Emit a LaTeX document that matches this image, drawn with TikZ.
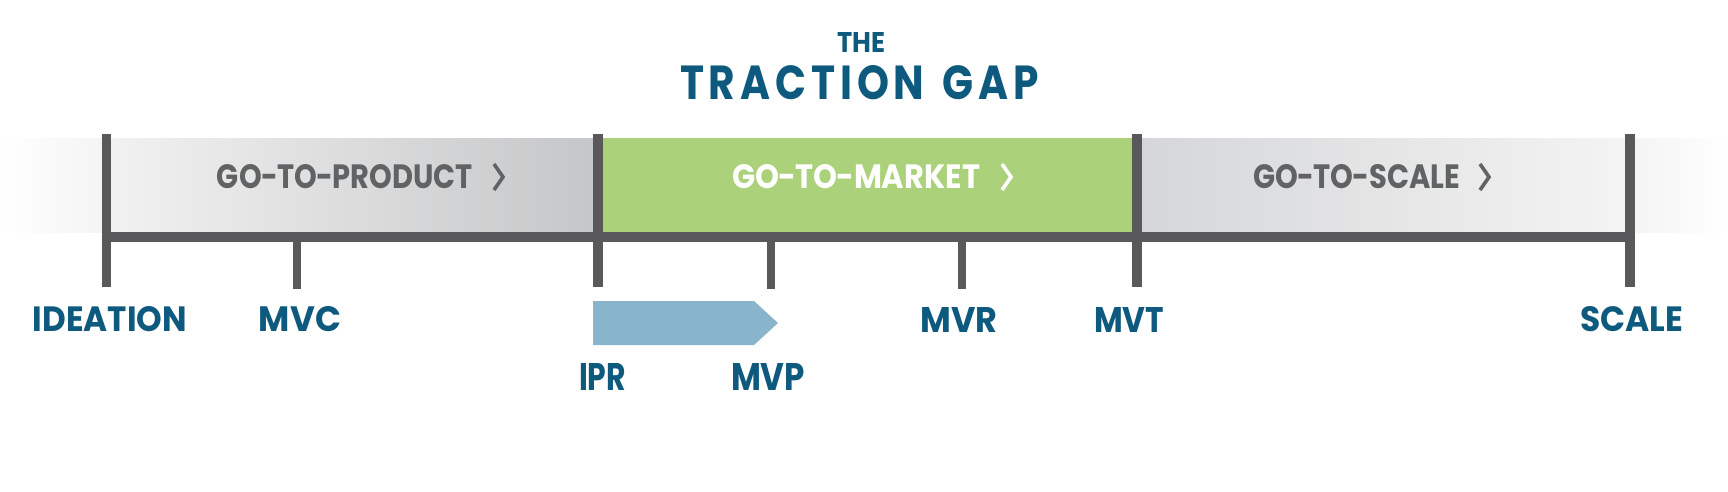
\documentclass[tikz,border=0pt]{standalone}
\usepackage{fontspec}
\setmainfont{Poppins}
\usepackage{graphicx}
\definecolor{tgblue}{HTML}{0E5A7E}
\definecolor{tickgray}{HTML}{59595B}
\definecolor{bandtext}{HTML}{616264}
\definecolor{tggreen}{HTML}{ABD27B}
\definecolor{arrowblue}{HTML}{88B5CC}
\definecolor{fadegray}{HTML}{F4F4F4}
\newcommand{\fitbox}[3]{\resizebox{#1pt}{#2pt}{#3}}
\newcommand{\hy}{\kern-0.02em-\kern-0.02em}
\begin{document}
\begin{tikzpicture}[x=1pt,y=-1pt,
  lbl/.style={inner sep=0pt, outer sep=0pt, text=tgblue, font=\bfseries},
  bandlbl/.style={inner sep=0pt, outer sep=0pt, text=bandtext, font=\bfseries},
  chev/.style={line width=3.6pt, miter limit=10},
  majortick/.style={fill=tickgray},
  minortick/.style={fill=tickgray}]
\useasboundingbox (0,0) rectangle (1728,492);
% fades outside the timeline
\shade[left color=white, right color=fadegray] (0,138) rectangle (102,232);
\shade[left color=fadegray, right color=white] (1635,138) rectangle (1728,232);
% bands
\shade[left color={rgb,255:red,242;green,242;blue,243}, right color={rgb,255:red,197;green,198;blue,199}] (102,138) rectangle (598,232);
\fill[tggreen] (598,138) rectangle (1137,232);
\shade[left color={rgb,255:red,213;green,214;blue,216}, right color={rgb,255:red,244;green,244;blue,244}] (1137,138) rectangle (1630,232);
% axis
\fill[tickgray] (102,232) rectangle (1635,242);
% major ticks
\fill[majortick] (102,134) rectangle (111,287);
\fill[majortick] (593,134) rectangle (603,287);
\fill[majortick] (1132,134) rectangle (1142,287);
\fill[majortick] (1625,134) rectangle (1635,287);
% minor ticks
\fill[minortick] (293,242) rectangle (301,289);
\fill[minortick] (767,242) rectangle (775,289);
\fill[minortick] (958,242) rectangle (966,289);
% arrow IPR -> MVP
\fill[arrowblue] (593,301) -- (754,301) -- (778,323) -- (754,345) -- (593,345) -- cycle;
% title
\node[lbl] (the) at (861,43) {\fitbox{48}{20}{THE}};
\node[lbl] (title) at (859.5,83) {\fitbox{359}{34}{\addfontfeatures{LetterSpace=12}TRACTION\hspace{0.45em}GAP}};
% band labels
\node[bandlbl] (gtp) at (345,177) {\fitbox{256}{24}{GO\hy TO\hy PRODUCT}};
\draw[chev, bandtext] (494,164) -- (503,177) -- (494,190);
\node[bandlbl, text=white] (gtm) at (856,177) {\fitbox{248}{24}{GO\hy TO\hy MARKET}};
\draw[chev, white] (1002,164) -- (1011,177) -- (1002,190);
\node[bandlbl] (gts) at (1356.5,177) {\fitbox{207}{24}{GO\hy TO\hy SCALE}};
\draw[chev, bandtext] (1480,164) -- (1489,177) -- (1480,190);
% milestone labels
\node[lbl] (ideation) at (110,319.5) {\fitbox{154}{25}{IDEATION}};
\node[lbl] (mvc) at (300,319.5) {\fitbox{82}{25}{MVC}};
\node[lbl] (mvr) at (959,319.5) {\fitbox{77}{25}{MVR}};
\node[lbl] (mvt) at (1129,319.5) {\fitbox{70}{25}{MVT}};
\node[lbl] (scale) at (1631.5,319.5) {\fitbox{103}{25}{SCALE}};
\node[lbl] (ipr) at (602.5,376.5) {\fitbox{47}{27}{IPR}};
\node[lbl] (mvp) at (768,376.5) {\fitbox{74}{27}{MVP}};
\end{tikzpicture}
\end{document}
